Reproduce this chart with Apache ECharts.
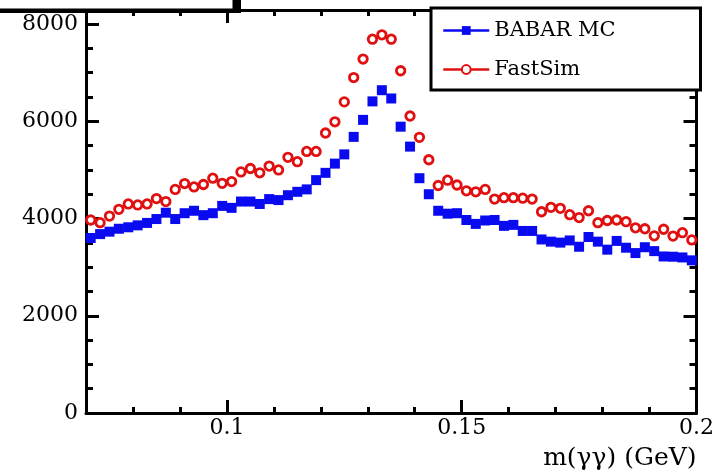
<!DOCTYPE html>
<html><head><meta charset="utf-8">
<script src="https://cdn.jsdelivr.net/npm/echarts@6/dist/echarts.min.js"></script>
<style>html,body{margin:0;padding:0;background:#fff}#c{width:717px;height:476px}</style>
</head><body><div id="c"></div>
<script>
// bin centres (GeV)
const xBins = [0.071,0.073,0.075,0.077,0.079,0.081,0.083,0.085,0.087,0.089,
  0.091,0.093,0.095,0.097,0.099,0.101,0.103,0.105,0.107,0.109,
  0.111,0.113,0.115,0.117,0.119,0.121,0.123,0.125,0.127,0.129,
  0.131,0.133,0.135,0.137,0.139,0.141,0.143,0.145,0.147,0.149,
  0.151,0.153,0.155,0.157,0.159,0.161,0.163,0.165,0.167,0.169,
  0.171,0.173,0.175,0.177,0.179,0.181,0.183,0.185,0.187,0.189,
  0.191,0.193,0.195,0.197,0.199];
const babarMC = [3600,3680,3730,3790,3820,3860,3910,3990,4120,3990,
  4110,4160,4070,4110,4260,4220,4350,4350,4300,4400,
  4380,4480,4550,4600,4790,4940,5130,5320,5680,6030,
  6410,6640,6470,5890,5480,4830,4500,4160,4100,4110,
  3970,3890,3960,3970,3850,3870,3745,3745,3570,3525,
  3505,3550,3420,3620,3525,3360,3540,3400,3290,3410,
  3330,3220,3215,3200,3140];
const fastSim = [3970,3915,4050,4190,4300,4280,4300,4410,4350,4600,
  4720,4650,4700,4830,4725,4760,4960,5030,4940,5080,
  5000,5260,5170,5380,5380,5760,5990,6400,6900,7280,
  7690,7780,7690,7040,6110,5670,5210,4680,4790,4690,
  4570,4550,4600,4400,4430,4430,4420,4400,4140,4230,
  4210,4080,4020,4160,3915,3960,3970,3935,3810,3790,
  3645,3780,3640,3710,3560];
const seriesNames = ['BABAR MC', 'FastSim'];
const xMajorTicks = [0.1, 0.15, 0.2];
const xMinorTicks = [0.08,0.09,0.11,0.12,0.13,0.14,0.16,0.17,0.18,0.19];
const yMajorTicks = [0,2000,4000,6000,8000];
const yMinorTicks = [500,1000,1500,2500,3000,3500,4500,5000,5500,6500,7000,7500];
const xTitle = 'm(γγ) (GeV)';

const FONT = 'DejaVu Serif';
const X_MIN = 0.07, X_MAX = 0.2, Y_MIN = 0, Y_MAX = 8290;
const BLUE = '#0a0af0', RED = '#e01010';

function xAx(pos, ticks, len, withLine, withLabels) {
  return {
    type: 'value', position: pos, min: X_MIN, max: X_MAX,
    axisLine: { show: withLine, onZero: false, lineStyle: { color: '#000', width: 3 } },
    axisTick: { show: true, inside: true, length: len, customValues: ticks, lineStyle: { color: '#000', width: 3 } },
    axisLabel: withLabels ? { show: true, customValues: ticks, margin: 4, color: '#000', fontFamily: FONT, fontSize: 22, formatter: v => String(v) } : { show: false },
    splitLine: { show: false }
  };
}
function yAx(pos, ticks, len, withLine, withLabels) {
  return {
    type: 'value', position: pos, min: Y_MIN, max: Y_MAX,
    axisLine: { show: withLine, onZero: false, lineStyle: { color: '#000', width: 3 } },
    axisTick: { show: true, inside: true, length: len, customValues: ticks, lineStyle: { color: '#000', width: 3 } },
    axisLabel: withLabels ? { show: true, customValues: ticks, margin: 8, color: '#000', fontFamily: FONT, fontSize: 22, formatter: v => String(v) } : { show: false },
    splitLine: { show: false }
  };
}

const xBottom = xAx('bottom', xMajorTicks, 13, true, true);
xBottom.name = xTitle;
xBottom.nameLocation = 'end';
xBottom.nameGap = 0;
xBottom.nameTextStyle = { fontFamily: FONT, fontSize: 25, color: '#000', align: 'right', verticalAlign: 'top', padding: [33, 0, 0, 0] };

const chart = echarts.init(document.getElementById('c'), null, { renderer: 'canvas' });
chart.setOption({
  animation: false,
  backgroundColor: '#fff',
  grid: { left: 86, right: 19, top: 10, bottom: 63, containLabel: false },
  xAxis: [
    xBottom,
    xAx('bottom', xMinorTicks, 6, false, false),
    xAx('top', xMajorTicks, 13, true, false),
    xAx('top', xMinorTicks, 6, false, false)
  ],
  yAxis: [
    yAx('left', yMajorTicks, 13, true, true),
    yAx('left', yMinorTicks, 7, false, false),
    yAx('right', yMajorTicks, 13, true, false),
    yAx('right', yMinorTicks, 7, false, false)
  ],
  legend: {
    orient: 'vertical', left: 431, top: 8,
    padding: [12, 85, 10, 11], itemGap: 18, itemWidth: 46, itemHeight: 11,
    backgroundColor: '#fff', borderColor: '#000', borderWidth: 3, borderRadius: 0,
    textStyle: { fontFamily: FONT, fontSize: 21, color: '#000' },
    lineStyle: { opacity: 1, width: 2.5 },
    data: seriesNames
  },
  graphic: [
    { type: 'rect', z: 100, shape: { x: -2, y: -2, width: 243, height: 15 }, style: { fill: '#000' } },
    { type: 'rect', z: 101, shape: { x: -6, y: -6, width: 240, height: 16 }, style: { fill: '#fff', stroke: '#000', lineWidth: 3 } }
  ],
  series: [
    {
      name: seriesNames[0], type: 'line', xAxisIndex: 0, yAxisIndex: 0,
      data: xBins.map((x, i) => [x, babarMC[i]]),
      symbol: 'rect', symbolSize: 10, showSymbol: true, showAllSymbol: true,
      itemStyle: { color: BLUE },
      lineStyle: { opacity: 0, color: BLUE },
      z: 3
    },
    {
      name: seriesNames[1], type: 'line', xAxisIndex: 0, yAxisIndex: 0,
      data: xBins.map((x, i) => [x, fastSim[i]]),
      symbol: 'circle', symbolSize: 8.5, showSymbol: true, showAllSymbol: true,
      itemStyle: { color: '#fff', borderColor: RED, borderWidth: 2.8 },
      lineStyle: { opacity: 0, color: RED },
      z: 4
    }
  ]
});
</script>
</body></html>
